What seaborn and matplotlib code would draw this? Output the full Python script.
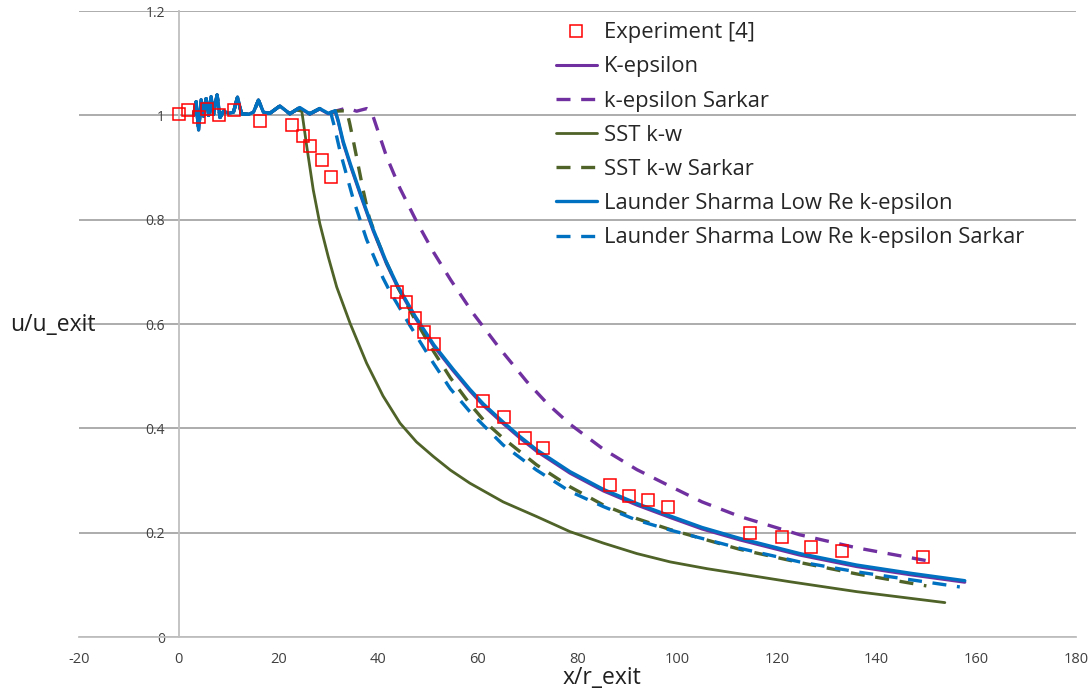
import matplotlib
matplotlib.use("Agg")
import matplotlib.pyplot as plt
import seaborn as sns
import numpy as np

# ---------------- data ----------------
exp_x = [0.0, 1.8, 4.1, 5.7, 8.1, 11.1, 16.4, 22.7, 24.9, 26.4, 28.7, 30.6,
         43.7, 45.7, 47.5, 49.3, 51.2, 61.1, 65.3, 69.4, 73.1,
         86.5, 90.3, 94.2, 98.2, 114.7, 121.0, 126.9, 133.1, 149.4]
exp_y = [1.002, 1.011, 0.997, 1.012, 1.000, 1.010, 0.990, 0.982, 0.960, 0.942, 0.914, 0.882,
         0.662, 0.642, 0.612, 0.584, 0.562, 0.453, 0.421, 0.382, 0.363,
         0.292, 0.271, 0.262, 0.250, 0.200, 0.192, 0.172, 0.165, 0.153]

# shared near-nozzle oscillating region
near_x = [3.0, 3.5, 4.0, 4.5, 5.0, 5.5, 6.0, 6.5, 7.0, 7.7, 8.3, 9.0, 10.0, 11.0,
          11.8, 12.6, 14.0, 15.0, 16.0, 17.0, 18.3, 20.3, 22.3]
near_y = [1.000, 1.026, 0.972, 1.030, 0.998, 1.032, 1.000, 1.036, 1.002, 1.039, 0.996,
          1.008, 1.004, 1.006, 1.035, 1.003, 1.002, 1.006, 1.029, 1.006, 1.004, 1.018, 1.003]

ke_x = [24.3, 26.3, 28.3, 30.0, 31.4, 32.0, 33.0, 34.5, 36.4, 39.0, 41.7, 44.0, 47.5,
        51.2, 55.0, 58.4, 61.1, 65.1, 68.5, 71.8, 78.5, 85.2, 91.9, 98.6, 105.0,
        112.6, 124.6, 136.0, 147.0, 157.7]
ke_y = [1.014, 1.002, 1.012, 1.003, 1.007, 0.988, 0.947, 0.902, 0.849, 0.779, 0.715,
        0.669, 0.611, 0.557, 0.511, 0.472, 0.444, 0.409, 0.381, 0.356, 0.314, 0.280,
        0.253, 0.229, 0.207, 0.186, 0.157, 0.135, 0.119, 0.105]

kes_x = [24.3, 26.3, 28.3, 30.0, 31.4, 33.7, 35.7, 37.7, 38.4, 39.0, 39.7, 41.7, 44.4,
         47.7, 51.1, 54.6, 59.1, 64.5, 69.8, 74.0, 78.5, 85.2, 91.9, 98.6, 105.0,
         112.6, 124.6, 136.0, 151.4]
kes_y = [1.015, 1.003, 1.013, 1.004, 1.008, 1.014, 1.008, 1.013, 1.009, 0.998, 0.978,
         0.921, 0.860, 0.797, 0.738, 0.684, 0.620, 0.552, 0.490, 0.447, 0.408, 0.360,
         0.321, 0.289, 0.259, 0.231, 0.196, 0.171, 0.144]

sst_x = [23.5, 24.7, 25.7, 27.0, 28.3, 30.0, 31.7, 34.4, 37.7, 41.0, 44.4, 47.7, 51.1,
         54.5, 58.4, 65.1, 71.8, 78.5, 85.2, 91.9, 98.6, 106.0, 114.0, 122.6, 136.0, 153.7]
sst_y = [1.010, 1.008, 0.940, 0.857, 0.793, 0.729, 0.671, 0.601, 0.525, 0.462, 0.410,
         0.374, 0.346, 0.320, 0.295, 0.259, 0.231, 0.202, 0.180, 0.160, 0.144, 0.131,
         0.119, 0.106, 0.087, 0.066]

ssts_x = [24.3, 26.3, 28.3, 30.0, 31.4, 33.7, 34.3, 35.0, 36.0, 37.0, 38.2, 39.7, 41.7,
          44.0, 47.1, 51.1, 54.5, 58.4, 61.5, 65.1, 71.8, 78.5, 85.2, 91.9, 98.6,
          112.6, 124.0, 136.0, 150.0]
ssts_y = [1.015, 1.003, 1.013, 1.004, 1.008, 1.009, 0.985, 0.953, 0.905, 0.857, 0.805,
          0.765, 0.718, 0.670, 0.614, 0.548, 0.497, 0.447, 0.412, 0.381, 0.330, 0.288,
          0.253, 0.227, 0.206, 0.168, 0.144, 0.121, 0.098]

ls_x = [24.3, 26.3, 28.3, 30.0, 31.4, 32.0, 33.0, 34.5, 36.4, 39.0, 41.7, 44.0, 47.5,
        51.2, 55.0, 58.4, 61.1, 65.1, 68.5, 71.8, 78.5, 85.2, 91.9, 98.6, 105.0,
        112.6, 124.6, 136.0, 147.0, 157.7]
ls_y = [1.015, 1.003, 1.013, 1.004, 1.009, 0.990, 0.950, 0.905, 0.852, 0.782, 0.718,
        0.672, 0.614, 0.560, 0.514, 0.475, 0.447, 0.412, 0.384, 0.359, 0.317, 0.283,
        0.256, 0.232, 0.210, 0.189, 0.160, 0.138, 0.122, 0.108]

lss_x = [24.3, 26.3, 28.3, 30.4, 31.2, 32.4, 35.0, 37.7, 41.0, 42.4, 46.4, 51.1, 54.5,
         58.4, 65.1, 71.8, 78.5, 85.2, 91.9, 98.6, 112.6, 124.6, 136.0, 156.7]
lss_y = [1.015, 1.003, 1.013, 1.009, 0.980, 0.930, 0.840, 0.762, 0.688, 0.662, 0.597,
         0.525, 0.476, 0.432, 0.368, 0.320, 0.279, 0.250, 0.224, 0.205, 0.170, 0.144,
         0.125, 0.096]

x_ticks = [-20, 0, 20, 40, 60, 80, 100, 120, 140, 160, 180]
y_ticks = [0, 0.2, 0.4, 0.6, 0.8, 1.0, 1.2]
y_tick_labels = ["0", "0.2", "0.4", "0.6", "0.8", "1", "1.2"]

PURPLE = "#7030A0"
OLIVE = "#4F6228"
BLUE = "#0070C0"
GRID = "#A6A6A6"

# ---------------- plot ----------------
sns.set_theme(style="white")
plt.rcParams["font.family"] = ["Open Sans", "DejaVu Sans"]

fig = plt.figure(figsize=(10.91, 6.94), dpi=100)
ax = fig.add_axes([0.0724, 0.0821, 0.9138, 0.902])

dash = (0, (4.2, 3.2))
series = [
    ("K-epsilon", ke_x, ke_y, PURPLE, "-", 2.2),
    ("k-epsilon Sarkar", kes_x, kes_y, PURPLE, dash, 2.4),
    ("SST k-w", sst_x, sst_y, OLIVE, "-", 2.0),
    ("SST k-w Sarkar", ssts_x, ssts_y, OLIVE, dash, 2.4),
    ("Launder Sharma Low Re k-epsilon", ls_x, ls_y, BLUE, "-", 2.4),
    ("Launder Sharma Low Re k-epsilon Sarkar", lss_x, lss_y, BLUE, dash, 2.4),
]

handles = {}
for name, xs, ys, col, ls, lw in series:
    fx = np.array(near_x + xs)
    fy = np.array(near_y + ys)
    sns.lineplot(x=fx, y=fy, ax=ax, color=col, linestyle=ls, linewidth=lw,
                 sort=False, estimator=None, label=name)
    ln = ax.lines[-1]
    ln.set_solid_joinstyle("round")
    ln.set_dash_joinstyle("round")
    handles[name] = ln

sns.lineplot(x=exp_x, y=exp_y, ax=ax, color="#FF0000", linestyle="", marker="s",
             markersize=9, markerfacecolor="none", markeredgecolor="#FF0000",
             markeredgewidth=1.1, sort=False, estimator=None, label="Experiment [4]")
exp_line = ax.lines[-1]
exp_line.set_zorder(5)

ax.set_xlim(-20, 180)
ax.set_ylim(0, 1.2)
ax.set_xticks(x_ticks)
ax.set_xticklabels([str(v) for v in x_ticks])
ax.set_yticks(y_ticks)
ax.set_yticklabels(y_tick_labels)

ax.yaxis.grid(True, color=GRID, linewidth=1.3)
ax.xaxis.grid(False)
ax.set_axisbelow(True)

for s in ["top", "right"]:
    ax.spines[s].set_visible(False)
ax.spines["left"].set_position(("data", 0))
ax.spines["left"].set_color("#BFBFBF")
ax.spines["left"].set_linewidth(1.3)
ax.spines["bottom"].set_color("#BFBFBF")
ax.spines["bottom"].set_linewidth(1.3)

ax.tick_params(axis="y", length=0, pad=10, labelsize=10, colors="#404040")
ax.tick_params(axis="x", direction="out", length=4, width=1.2, color="#BFBFBF",
               pad=7, labelsize=10.5, labelcolor="#404040")

ax.set_xlabel("x/r_exit", fontsize=16.5, color="#202020", va="center")
ax.xaxis.set_label_coords(0.525, -0.0655)
ax.set_ylabel("u/u_exit", fontsize=16.5, rotation=0, color="#202020", ha="center", va="center")
ax.yaxis.set_label_coords(-0.026, 0.498)

order = ["K-epsilon", "k-epsilon Sarkar", "SST k-w", "SST k-w Sarkar",
         "Launder Sharma Low Re k-epsilon", "Launder Sharma Low Re k-epsilon Sarkar"]
leg = ax.legend([exp_line] + [handles[n] for n in order], ["Experiment [4]"] + order,
                loc="upper left", bbox_to_anchor=(0.478, 0.982), frameon=False,
                fontsize=15.8, handlelength=1.9, handletextpad=0.3,
                labelspacing=0.6, borderpad=0, borderaxespad=0)

fig.savefig("out.png", dpi=100)
